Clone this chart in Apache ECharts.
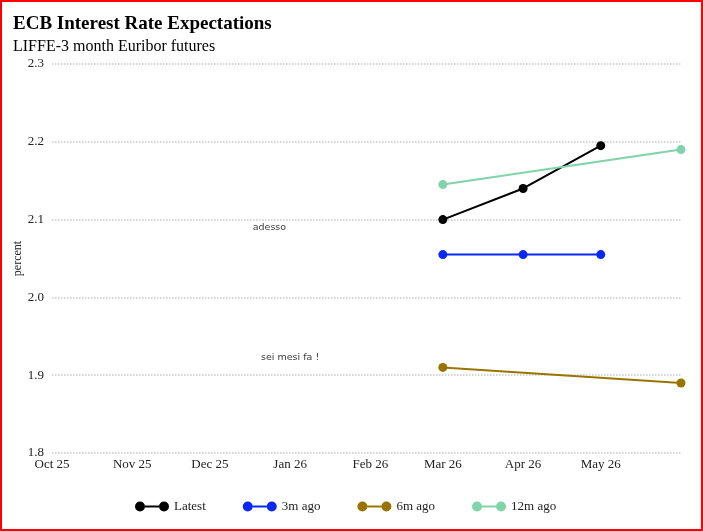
<!DOCTYPE html>
<html>
<head>
<meta charset="utf-8">
<script src="https://cdn.jsdelivr.net/npm/echarts@6/dist/echarts.min.js"></script>
<style>
  html, body { margin: 0; padding: 0; background: #fff; }
  #frame { width: 703px; height: 531px; box-sizing: border-box; border: 2px solid #ff0000; }
  #chart { width: 699px; height: 527px; }
</style>
</head>
<body>
<div id="frame"><div id="chart"></div></div>
<script>
'use strict';

// dati
const recentDates = ['2026-03-01', '2026-04-01', '2026-05-01'];
const latest = [2.10, 2.14, 2.195];
const threeMonthsAgo = [2.055, 2.055, 2.055];
const olderDates = ['2026-03-01', '2026-06-01'];
const sixMonthsAgo = [1.91, 1.89];
const twelveMonthsAgo = [2.145, 2.19];
const seriesNames = ['Latest', '3m ago', '6m ago', '12m ago'];
const monthNames = ['Jan', 'Feb', 'Mar', 'Apr', 'May', 'Jun', 'Jul', 'Aug', 'Sep', 'Oct', 'Nov', 'Dec'];
const xMin = '2025-10-01';
const xMax = '2026-06-01';

// note di testo
const notes = [
    { name: 'adesso', value: ['2025-12-24', 2.09] },
    { name: 'sei mesi fa !', value: ['2026-01-01', 1.923] }
];

const serif = '"Liberation Serif", "Times New Roman", serif';
const DAY = 24 * 3600 * 1000;

// icona legenda: cerchio - linea - cerchio
const legendIcon = 'path://M0,5 a5,5 0 1,0 10,0 a5,5 0 1,0 -10,0 Z M24,5 a5,5 0 1,0 10,0 a5,5 0 1,0 -10,0 Z M10,4 L24,4 L24,6 L10,6 Z';

function pairs(dates, vals) {
    return dates.map((d, i) => [d, vals[i]]);
}

function lineSeries(name, data, color) {
    return {
        name: name,
        type: 'line',
        data: data,
        symbol: 'circle',
        symbolSize: 9,
        lineStyle: { color: color, width: 2 },
        itemStyle: { color: color },
        emphasis: { disabled: true }
    };
}

const chart = echarts.init(document.getElementById('chart'));
const maxTime = new Date(xMax).getTime();

const option = {
    animation: false,
    title: [
        {
            text: 'ECB Interest Rate Expectations',
            left: 6, top: 8,
            textStyle: { fontFamily: serif, fontSize: 19, fontWeight: 'bold', color: '#000' }
        },
        {
            text: 'LIFFE-3 month Euribor futures',
            left: 6, top: 32,
            textStyle: { fontFamily: serif, fontSize: 16, fontWeight: 'normal', color: '#000' }
        }
    ],
    grid: { left: 50, right: 20, top: 62, bottom: 76, outerBoundsMode: 'none' },
    legend: {
        data: seriesNames,
        bottom: 11,
        left: 128,
        icon: legendIcon,
        itemWidth: 34,
        itemHeight: 10,
        itemGap: 37,
        textStyle: { fontFamily: serif, fontSize: 13, color: '#222' }
    },
    xAxis: {
        type: 'time',
        min: xMin,
        max: xMax,
        minInterval: 28 * DAY,
        maxInterval: 31 * DAY,
        axisLine: { show: false },
        axisTick: { show: false },
        splitLine: { show: false },
        axisLabel: {
            margin: 5,
            fontFamily: serif,
            fontSize: 13,
            color: '#222',
            formatter: (v) => {
                if (v >= maxTime) return '';
                const d = new Date(v);
                return monthNames[d.getMonth()] + ' ' + String(d.getFullYear()).slice(2);
            }
        }
    },
    yAxis: {
        type: 'value',
        min: 1.8,
        max: 2.3,
        interval: 0.1,
        name: 'percent',
        nameLocation: 'middle',
        nameMoveOverlap: false,
        nameGap: 28,
        nameTextStyle: { fontFamily: serif, fontSize: 12, color: '#222' },
        axisLine: { show: false },
        axisTick: { show: false },
        axisLabel: {
            margin: 8,
            fontFamily: serif,
            fontSize: 13,
            color: '#222',
            formatter: (v) => v.toFixed(1)
        },
        splitLine: { lineStyle: { color: '#c8c8c8', type: 'dotted', width: 1.5 } }
    },
    series: [
        lineSeries('Latest', pairs(recentDates, latest), '#000000'),
        lineSeries('3m ago', pairs(recentDates, threeMonthsAgo), '#0a28f5'),
        lineSeries('6m ago', pairs(olderDates, sixMonthsAgo), '#9a7400'),
        lineSeries('12m ago', pairs(olderDates, twelveMonthsAgo), '#80d3aa'),
        {
            name: 'note',
            type: 'scatter',
            data: notes,
            symbolSize: 0,
            silent: true,
            label: {
                show: true,
                position: 'inside',
                formatter: (p) => p.name,
                fontFamily: '"DejaVu Sans", sans-serif',
                fontSize: 9.5,
                color: '#000'
            }
        }
    ]
};

chart.setOption(option);
</script>
</body>
</html>
